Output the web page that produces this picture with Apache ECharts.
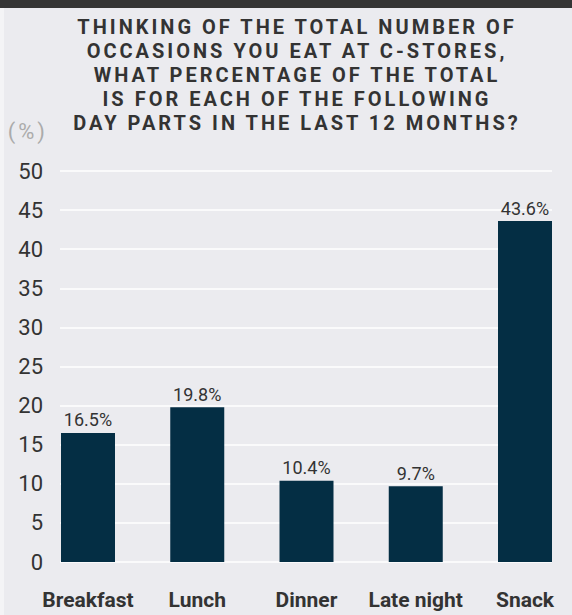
<!DOCTYPE html>
<html><head><meta charset="utf-8">
<script src="https://cdn.jsdelivr.net/npm/echarts@6/dist/echarts.min.js"></script>
<style>
html,body{margin:0;padding:0;background:#ebebef;}
#chart{width:572px;height:615px;}
#chart text[style*="SpacedA"]{letter-spacing:3px;}
#chart text[style*="SpacedB"]{letter-spacing:3px;}
</style></head><body><div id="chart"></div>
<script>
const titleLines = [
  'THINKING OF THE TOTAL NUMBER OF',
  'OCCASIONS YOU EAT AT C-STORES,',
  'WHAT PERCENTAGE OF THE TOTAL',
  'IS FOR EACH OF THE FOLLOWING',
  'DAY PARTS IN THE LAST 12 MONTHS?'
];
const categories = ['Breakfast', 'Lunch', 'Dinner', 'Late night', 'Snack'];
const shares = [16.5, 19.8, 10.4, 9.7, 43.6];
const yMin = 0, yMax = 50, yStep = 5;
const unitLabel = '(%)';

const chart = echarts.init(document.getElementById('chart'), null, {renderer: 'svg'});
const baseFont = 'Roboto';
chart.setOption({
  backgroundColor: '#ebebef',
  animation: false,
  title: {
    text: titleLines.join('\n'),
    left: 297, top: 15, padding: 0,
    textAlign: 'center', textVerticalAlign: 'top',
    textStyle: {fontFamily: 'Roboto, SpacedA', fontWeight: 'bold', fontSize: 20, lineHeight: 23.9, color: '#333333'}
  },
  graphic: [
    {type: 'rect', left: 0, top: 0, shape: {width: 572, height: 8}, style: {fill: '#353535'}, z: 10},
    {type: 'rect', left: 0, top: 8, shape: {width: 4, height: 607}, style: {fill: '#f4f4f6'}, z: 10}
  ],
  grid: [
    {left: 60, right: 20, top: 171, bottom: 53, containLabel: false},
    {left: 88, right: 47, top: 171, bottom: 53, containLabel: false}
  ],
  xAxis: [
    {gridIndex: 0, type: 'category', data: categories, show: false},
    {gridIndex: 1, type: 'category', data: categories, boundaryGap: false,
     axisLine: {show: false}, axisTick: {show: false}, splitLine: {show: false},
     axisLabel: {interval: 0, hideOverlap: false, margin: 27, fontFamily: baseFont, fontWeight: 'bold', fontSize: 21, color: '#333333'}}
  ],
  yAxis: [
    {gridIndex: 0, type: 'value', min: yMin, max: yMax, interval: yStep,
     name: unitLabel, nameLocation: 'end', nameGap: 40,
     nameTextStyle: {fontFamily: 'Roboto, SpacedB', fontSize: 22, color: '#ababab', align: 'right', verticalAlign: 'middle', padding: [0, 12, 0, 0]},
     axisLine: {show: false}, axisTick: {show: false},
     splitLine: {show: true, lineStyle: {color: '#ffffff', width: 1.5}},
     axisLabel: {margin: 17, fontFamily: baseFont, fontSize: 22, color: '#333333', padding: [6, 0, 0, 0]}},
    {gridIndex: 1, type: 'value', min: yMin, max: yMax, interval: yStep, show: false, splitLine: {show: false}}
  ],
  series: [{
    type: 'bar', xAxisIndex: 1, yAxisIndex: 1, data: shares, barWidth: 54, clip: false,
    itemStyle: {color: '#042e44'},
    label: {show: true, position: 'top', distance: 4, fontFamily: baseFont, fontSize: 18, color: '#333333',
      formatter: p => p.value + '%'}
  }]
});
</script></body></html>
